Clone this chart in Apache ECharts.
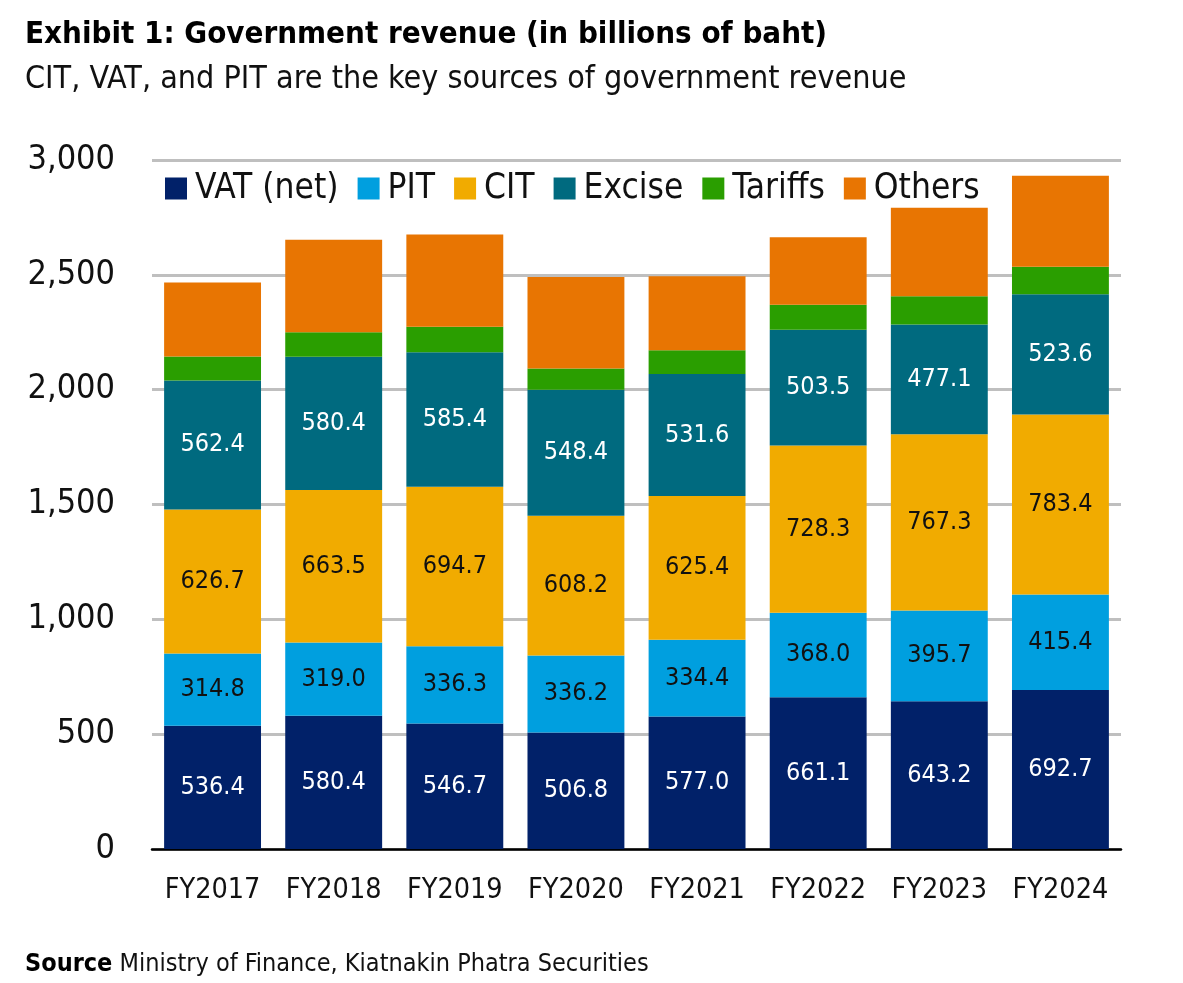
<!DOCTYPE html>
<html>
<head>
<meta charset="utf-8">
<script src="https://cdn.jsdelivr.net/npm/echarts@6/dist/echarts.min.js"></script>
<style>
html,body{margin:0;padding:0;background:#fff;}
#chart{width:1183px;height:983px;}
</style>
</head>
<body>
<div id="chart"></div>
<script>
const categories = ['FY2017','FY2018','FY2019','FY2020','FY2021','FY2022','FY2023','FY2024'];
const vat     = [536.4, 580.4, 546.7, 506.8, 577.0, 661.1, 643.2, 692.7];
const pit     = [314.8, 319.0, 336.3, 336.2, 334.4, 368.0, 395.7, 415.4];
const cit     = [626.7, 663.5, 694.7, 608.2, 625.4, 728.3, 767.3, 783.4];
const excise  = [562.4, 580.4, 585.4, 548.4, 531.6, 503.5, 477.1, 523.6];
const tariffs = [104, 107, 111, 93, 103, 109, 123, 120];
const others  = [322, 402, 402, 398, 322, 294, 386, 396];
const yTicks  = [0, 500, 1000, 1500, 2000, 2500, 3000];

const FONT = '"Liberation Sans Narrow", "DejaVu Sans Condensed", sans-serif';
const chart = echarts.init(document.getElementById('chart'));

function mk(name, data, color, labelColor) {
  return {
    name, type: 'bar', stack: 'total', data,
    barCategoryGap: '20%',
    itemStyle: { color },
    label: labelColor ? {
      show: true, position: 'inside', color: labelColor,
      fontFamily: FONT, fontSize: 25,
      formatter: p => p.value.toFixed(1)
    } : { show: false }
  };
}

chart.setOption({
  animation: false,
  backgroundColor: '#fff',
  title: [
    { text: 'Exhibit 1: Government revenue (in billions of baht)', left: 20, top: 14,
      textStyle: { fontFamily: FONT, fontWeight: 'bold', fontSize: 31, color: '#000' } },
    { text: 'CIT, VAT, and PIT are the key sources of government revenue', left: 20, top: 59,
      textStyle: { fontFamily: FONT, fontWeight: 'normal', fontSize: 32, color: '#111' } },
    { text: '{b|Source} Ministry of Finance, Kiatnakin Phatra Securities', left: 20, top: 947,
      textStyle: { fontFamily: FONT, fontSize: 25, fontWeight: 'normal', color: '#111',
        rich: { b: { fontFamily: FONT, fontSize: 25, fontWeight: 'bold', color: '#000' } } } }
  ],
  legend: {
    left: 160, top: 166,
    itemWidth: 22, itemHeight: 22, itemGap: 19,
    icon: 'rect',
    textStyle: { fontFamily: FONT, fontSize: 35, color: '#111', padding: [0,0,0,3] },
    data: ['VAT (net)','PIT','CIT','Excise','Tariffs','Others']
  },
  grid: { left: 152, right: 62, top: 160, bottom: 134, containLabel: false },
  xAxis: {
    type: 'category', data: categories,
    axisLine: { show: true, lineStyle: { color: '#000', width: 2.5 } },
    axisTick: { show: false },
    axisLabel: { interval: 0, fontFamily: FONT, fontSize: 28.5, color: '#111', margin: 27 }
  },
  yAxis: {
    type: 'value', min: yTicks[0], max: yTicks[yTicks.length-1], interval: 500,
    axisLine: { show: false }, axisTick: { show: false },
    splitLine: { lineStyle: { color: '#bfbfbf', width: 3 } },
    axisLabel: { fontFamily: FONT, fontSize: 34, color: '#111', margin: 37,
      formatter: v => v.toLocaleString('en-US') }
  },
  series: [
    mk('VAT (net)', vat, '#012169', '#ffffff'),
    mk('PIT', pit, '#009fdf', '#111111'),
    mk('CIT', cit, '#f1ab00', '#111111'),
    mk('Excise', excise, '#006a7f', '#ffffff'),
    mk('Tariffs', tariffs, '#2a9e00', null),
    mk('Others', others, '#e87502', null)
  ]
});
</script>
</body>
</html>
